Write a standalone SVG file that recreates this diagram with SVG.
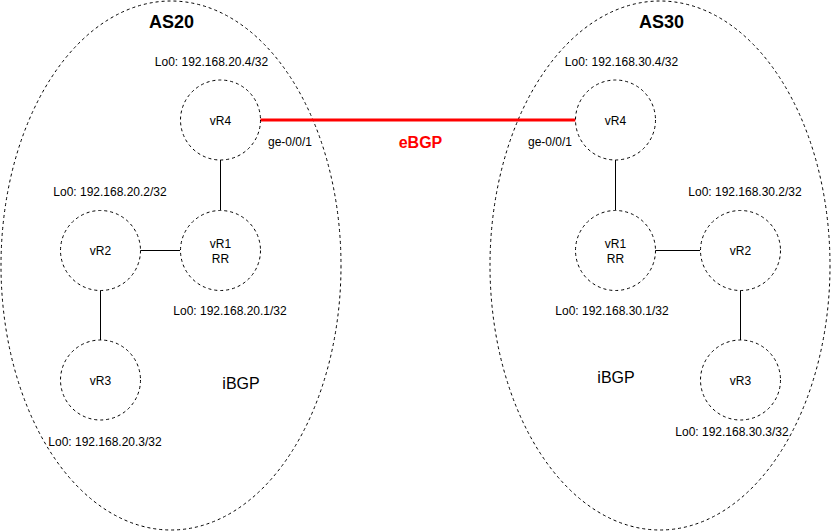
<svg xmlns="http://www.w3.org/2000/svg" width="831" height="531" viewBox="0 0 831 531">
<style>
.as{fill:none;stroke:#000;stroke-width:1;stroke-dasharray:3 3}
.rt{fill:#fff;stroke:#000;stroke-width:1;stroke-dasharray:3 3}
.ln{stroke:#000;stroke-width:1;fill:none}
.eb{stroke:#ff0000;stroke-width:3;fill:none}
text{font-family:"Liberation Sans",Arial,sans-serif;font-size:12px;fill:#000;text-anchor:middle}
.t{font-weight:bold;font-size:18px}
.r{font-weight:bold;font-size:16px;fill:#ff0000}
.i{font-size:16px}
</style>
<rect width="831" height="531" fill="#fff"/>
<g id="as20">
<ellipse class="as" cx="171" cy="265.5" rx="170" ry="264.5"/>
<text class="t" x="171.5" y="28">AS20</text>
<text class="i" x="241" y="389">iBGP</text>
</g>
<g id="as30">
<ellipse class="as" cx="660" cy="265.5" rx="170" ry="264.5"/>
<text class="t" x="661.5" y="28">AS30</text>
<text class="i" x="616" y="383">iBGP</text>
</g>
<g id="connectors">
<line class="ln" x1="220.5" y1="160" x2="220.5" y2="210"/>
<line class="ln" x1="140" y1="250.5" x2="180" y2="250.5"/>
<line class="ln" x1="100.5" y1="290" x2="100.5" y2="340"/>
<line class="ln" x1="615.5" y1="160" x2="615.5" y2="210"/>
<line class="ln" x1="655" y1="250.5" x2="700" y2="250.5"/>
<line class="ln" x1="740.5" y1="290" x2="740.5" y2="340"/>
<line class="eb" x1="260" y1="120" x2="575.5" y2="120"/>
<text class="r" x="420.5" y="147.5">eBGP</text>
<text x="290" y="146">ge-0/0/1</text>
<text x="550" y="146">ge-0/0/1</text>
</g>
<g id="as20-vR4">
<circle class="rt" cx="220.5" cy="120" r="40"/>
<text x="220.5" y="125">vR4</text>
<text x="211.5" y="66">Lo0: 192.168.20.4/32</text>
</g>
<g id="as20-vR1">
<circle class="rt" cx="220.5" cy="250.5" r="40"/>
<text x="220.5" y="248">vR1</text>
<text x="220.5" y="262.5">RR</text>
<text x="230" y="315">Lo0: 192.168.20.1/32</text>
</g>
<g id="as20-vR2">
<circle class="rt" cx="100.5" cy="250.5" r="40"/>
<text x="100.5" y="255">vR2</text>
<text x="110" y="196">Lo0: 192.168.20.2/32</text>
</g>
<g id="as20-vR3">
<circle class="rt" cx="100.5" cy="380" r="40"/>
<text x="100.5" y="385">vR3</text>
<text x="105" y="445.5">Lo0: 192.168.20.3/32</text>
</g>
<g id="as30-vR4">
<circle class="rt" cx="615.5" cy="120" r="40"/>
<text x="615.5" y="125">vR4</text>
<text x="621.5" y="66">Lo0: 192.168.30.4/32</text>
</g>
<g id="as30-vR1">
<circle class="rt" cx="615.5" cy="250.5" r="40"/>
<text x="615.5" y="248">vR1</text>
<text x="615.5" y="262.5">RR</text>
<text x="612" y="315">Lo0: 192.168.30.1/32</text>
</g>
<g id="as30-vR2">
<circle class="rt" cx="740.5" cy="250.5" r="40"/>
<text x="740.5" y="255">vR2</text>
<text x="745" y="196">Lo0: 192.168.30.2/32</text>
</g>
<g id="as30-vR3">
<circle class="rt" cx="740.5" cy="380" r="40"/>
<text x="740.5" y="385">vR3</text>
<text x="732" y="435.5">Lo0: 192.168.30.3/32</text>
</g>
</svg>
